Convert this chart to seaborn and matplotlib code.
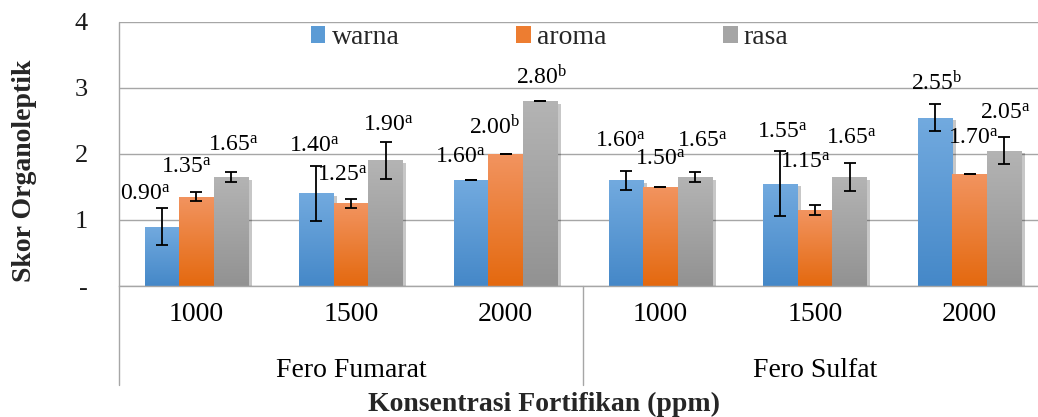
import numpy as np
import pandas as pd
import matplotlib
matplotlib.use("Agg")
import matplotlib.pyplot as plt
import matplotlib.transforms as mtransforms
import matplotlib.patheffects as pe
from matplotlib.patches import Patch
from matplotlib.colors import to_rgb
import seaborn as sns

# ---------------- data ----------------
concentrations = ["1000", "1500", "2000", "1000", "1500", "2000"]
fortificants = ["Fero Fumarat", "Fero Sulfat"]
attributes = ["warna", "aroma", "rasa"]

warna = [0.90, 1.40, 1.60, 1.60, 1.55, 2.55]
aroma = [1.35, 1.25, 2.00, 1.50, 1.15, 1.70]
rasa = [1.65, 1.90, 2.80, 1.65, 1.65, 2.05]

warna_err = [0.28, 0.42, 0.00, 0.14, 0.49, 0.21]
aroma_err = [0.07, 0.07, 0.00, 0.00, 0.07, 0.00]
rasa_err = [0.07, 0.28, 0.00, 0.07, 0.21, 0.21]

warna_sig = ["a", "a", "a", "a", "a", "b"]
aroma_sig = ["a", "a", "b", "a", "a", "a"]
rasa_sig = ["a", "a", "b", "a", "a", "a"]

y_ticks = [0, 1, 2, 3, 4]
y_ticklabels = ["-", "1", "2", "3", "4"]

# ---------------- label placement (styling) ----------------
# x offset from bar centre (category units), baseline y (data units)
lab_dx = {
    "warna": [-0.104, -0.016, -0.067, -0.038, 0.014, 0.009],
    "aroma": [-0.067, -0.053, -0.074, 0.000, -0.061, 0.022],
    "rasa": [0.018, 0.016, 0.008, 0.046, 0.010, 0.005],
}
lab_y = {
    "warna": [1.308, 2.039, 1.864, 2.111, 2.242, 2.970],
    "aroma": [1.712, 1.595, 2.303, 1.838, 1.788, 2.161],
    "rasa": [2.050, 2.353, 3.050, 2.111, 2.161, 2.530],
}

# ---------------- style ----------------
sns.set_style("white")
plt.rcParams["font.family"] = ["Liberation Serif", "DejaVu Serif"]
plt.rcParams["mathtext.fontset"] = "custom"
plt.rcParams["mathtext.rm"] = "Liberation Serif"
plt.rcParams["mathtext.it"] = "Liberation Serif:italic"
plt.rcParams["mathtext.bf"] = "Liberation Serif:bold"

colors = {"warna": "#5B9BD5", "aroma": "#ED7D31", "rasa": "#A5A5A5"}
grad = {
    "warna": ("#72AADF", "#4588C8"),
    "aroma": ("#F29460", "#E4690F"),
    "rasa": ("#B4B4B4", "#929292"),
}
grey = "#A6A6A6"

treatments = [f"{fortificants[i // 3]} {c}" for i, c in enumerate(concentrations)]
vals = {"warna": warna, "aroma": aroma, "rasa": rasa}
errs = {"warna": warna_err, "aroma": aroma_err, "rasa": rasa_err}
sigs = {"warna": warna_sig, "aroma": aroma_sig, "rasa": rasa_sig}

df = pd.DataFrame(
    [(t, a, vals[a][i]) for a in attributes for i, t in enumerate(treatments)],
    columns=["treatment", "attribute", "score"],
)

W, H = 1038, 417
fig = plt.figure(figsize=(W / 100, H / 100), dpi=100)
ax_left, ax_right, ax_top, ax_bottom = 119, 1047, 21.7, 286
ax = fig.add_axes([ax_left / W, 1 - ax_bottom / H, (ax_right - ax_left) / W,
                   (ax_bottom - ax_top) / H])

sns.barplot(data=df, x="treatment", y="score", hue="attribute", order=treatments,
            hue_order=attributes, palette=colors, width=0.67, errorbar=None,
            saturation=1, legend=False, ax=ax, zorder=2)

# gradient fill + shadow
for a, cont in zip(attributes, ax.containers):
    top, bot = grad[a]
    t_rgb, b_rgb = np.array(to_rgb(top)), np.array(to_rgb(bot))
    ramp = np.linspace(0, 1, 128)[:, None, None]
    img_arr = t_rgb[None, None, :] * (1 - ramp) + b_rgb[None, None, :] * ramp
    for bar in cont:
        bar.set_edgecolor("none")
        bar.set_path_effects([pe.SimplePatchShadow(offset=(2.5, -2.0), shadow_rgbFace="#000000", alpha=0.22),
                              pe.Normal()])
        x0, y0, w, h = bar.get_x(), bar.get_y(), bar.get_width(), bar.get_height()
        im = ax.imshow(img_arr, extent=[x0, x0 + w, y0, y0 + h], aspect="auto",
                       origin="upper", interpolation="bilinear", zorder=2.1)
        im.set_clip_path(bar)

# error bars and value labels
for a, cont in zip(attributes, ax.containers):
    xs = [b.get_x() + b.get_width() / 2 for b in cont]
    hs = [b.get_height() for b in cont]
    ax.errorbar(xs, hs, yerr=errs[a], fmt="none", ecolor="black", elinewidth=1.3,
                capsize=4.3, capthick=1.3, zorder=5)
    for j, (x, v) in enumerate(zip(xs, hs)):
        ax.text(x + lab_dx[a][j], lab_y[a][j],
                f"{v:.2f}$^{{\\mathrm{{{sigs[a][j]}}}}}$",
                ha="center", va="baseline", fontsize=17, color="black", zorder=6)

ax.set_xlim(-0.5, 5.5)
ax.set_ylim(0, 4)
ax.set_yticks(y_ticks)
ax.set_yticklabels(y_ticklabels, fontsize=19, color="#1a1a1a")
ax.set_xticks(range(len(treatments)))
ax.set_xticklabels(concentrations, fontsize=20, color="black")
ax.tick_params(axis="x", length=0, pad=11.5)
ax.tick_params(axis="y", length=5.8, width=1, color=grey, pad=16.5, direction="out")
ax.set_xlabel("")
ax.set_ylabel("")
ax.set_axisbelow(True)
ax.yaxis.grid(True, color=grey, lw=1)
ax.xaxis.grid(False)
for s in ["top", "right", "left"]:
    ax.spines[s].set_visible(False)
ax.spines["bottom"].set_color(grey)
ax.spines["bottom"].set_linewidth(1)

# category separators (two-level axis)
trans = mtransforms.blended_transform_factory(ax.transData, ax.transAxes)
depth = -(385 - ax_bottom) / (ax_bottom - ax_top)
ax.plot([-0.5, -0.5], [1, depth], transform=trans, color=grey, lw=1, clip_on=False, zorder=1)
for xb in [2.5, 5.5]:
    ax.plot([xb, xb], [0, depth], transform=trans, color=grey, lw=1, clip_on=False, zorder=1)
grp_base = -(377 - ax_bottom) / (ax_bottom - ax_top)
for k, name in enumerate(fortificants):
    ax.text(1 + 3 * k, grp_base, name, transform=trans, ha="center", va="baseline",
            fontsize=20, color="black")

# legend
handles = [Patch(facecolor=colors[a], edgecolor="none") for a in attributes]
fig.legend(handles, attributes, loc="center", bbox_to_anchor=(549.7 / W, 1 - 38 / H),
           ncol=3, frameon=False, fontsize=20, handlelength=0.53, handleheight=0.53,
           handletextpad=0.22, columnspacing=4.2, borderpad=0)

fig.text(544.5 / W, 1 - 410.7 / H, "Konsentrasi Fortifikan (ppm)", ha="center",
         va="baseline", fontsize=20, fontweight="bold")
fig.text(25 / W, 1 - 171 / H, "Skor Organoleptik", ha="center", va="center",
         rotation=90, fontsize=20, fontweight="bold")

fig.savefig("out.png", dpi=100)
